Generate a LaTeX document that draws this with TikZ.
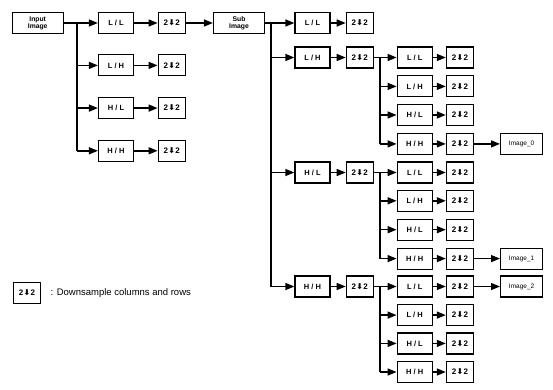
\documentclass[tikz,border=0pt]{standalone}
\usepackage{fontspec}
\setmainfont{Liberation Sans}
\newfontfamily\arrowfont{DejaVu Sans}
\usetikzlibrary{positioning,arrows.meta}
\newcommand{\dsym}{\bfseries 2\hspace{0.3pt}{\arrowfont ⬇}\hspace{0.3pt}2}
\newcommand{\lab}[2]{\bfseries #1 / #2}

\begin{document}
\begin{tikzpicture}[
  x=1pt, y=-1pt,
  font=\fontsize{7.5}{8}\selectfont,
  box/.style={draw, line width=1.2pt, align=center, inner sep=1pt, minimum width=35pt, minimum height=21pt},
  dsbox/.style={box, minimum width=27pt, font=\fontsize{8}{9}\selectfont},
  imgbox/.style={box, minimum width=51pt, font=\fontsize{6.8}{6.8}\selectfont\bfseries},
  outbox/.style={box, minimum width=42pt, font=\fontsize{6.5}{7}\selectfont},
  arr/.style={line width=1.4pt, -{Triangle[length=9pt, width=7pt]}},
  trunk/.style={line width=1.4pt}
]
  \useasboundingbox (0,0) rectangle (553,390);

  \node[imgbox] (in) at (37.7,23) {Input\\Image};
  \node[box] (a-ll) at (116,23) {\lab{L}{L}};
  \node[box] (a-lh) at (116,65.4) {\lab{L}{H}};
  \node[box] (a-hl) at (116,108.1) {\lab{H}{L}};
  \node[box] (a-hh) at (116,150.8) {\lab{H}{H}};
  \node[dsbox] (a-dll) at (171.7,23) {\dsym};
  \node[dsbox] (a-dlh) at (171.7,65.4) {\dsym};
  \node[dsbox] (a-dhl) at (171.7,108.1) {\dsym};
  \node[dsbox] (a-dhh) at (171.7,150.8) {\dsym};
  \node[imgbox] (sub) at (239,23) {Sub\\Image};

  \node[box] (b-ll) at (312.5,23) {\lab{L}{L}};
  \node[box] (b-lh) at (312.5,57.5) {\lab{L}{H}};
  \node[box] (b-hl) at (312.5,172.5) {\lab{H}{L}};
  \node[box] (b-hh) at (312.5,286.5) {\lab{H}{H}};
  \node[dsbox] (b-dll) at (359.8,23) {\dsym};
  \node[dsbox] (b-dlh) at (359.8,57.5) {\dsym};
  \node[dsbox] (b-dhl) at (359.8,172.5) {\dsym};
  \node[dsbox] (b-dhh) at (359.8,286.5) {\dsym};

  \node[box] (c1-ll) at (414.7,57.5) {\lab{L}{L}};
  \node[box] (c1-lh) at (414.7,86.4) {\lab{L}{H}};
  \node[box] (c1-hl) at (414.7,115) {\lab{H}{L}};
  \node[box] (c1-hh) at (414.7,143.9) {\lab{H}{H}};
  \node[box] (c2-ll) at (414.7,172.5) {\lab{L}{L}};
  \node[box] (c2-lh) at (414.7,200.8) {\lab{L}{H}};
  \node[box] (c2-hl) at (414.7,229.7) {\lab{H}{L}};
  \node[box] (c2-hh) at (414.7,258.6) {\lab{H}{H}};
  \node[box] (c3-ll) at (414.7,286.5) {\lab{L}{L}};
  \node[box] (c3-lh) at (414.7,315.1) {\lab{L}{H}};
  \node[box] (c3-hl) at (414.7,343.4) {\lab{H}{L}};
  \node[box] (c3-hh) at (414.7,372) {\lab{H}{H}};
  \node[dsbox, right=13pt of c1-ll] (c1-dll) {\dsym};
  \node[dsbox, right=13pt of c1-lh] (c1-dlh) {\dsym};
  \node[dsbox, right=13pt of c1-hl] (c1-dhl) {\dsym};
  \node[dsbox, right=13pt of c1-hh] (c1-dhh) {\dsym};
  \node[dsbox, right=13pt of c2-ll] (c2-dll) {\dsym};
  \node[dsbox, right=13pt of c2-lh] (c2-dlh) {\dsym};
  \node[dsbox, right=13pt of c2-hl] (c2-dhl) {\dsym};
  \node[dsbox, right=13pt of c2-hh] (c2-dhh) {\dsym};
  \node[dsbox, right=13pt of c3-ll] (c3-dll) {\dsym};
  \node[dsbox, right=13pt of c3-lh] (c3-dlh) {\dsym};
  \node[dsbox, right=13pt of c3-hl] (c3-dhl) {\dsym};
  \node[dsbox, right=13pt of c3-hh] (c3-dhh) {\dsym};
  \node[outbox, right=26pt of c1-dhh] (out0) {Image\_0};
  \node[outbox, right=26pt of c2-dhh] (out1) {Image\_1};
  \node[outbox, right=26pt of c3-dll] (out2) {Image\_2};

  \node[dsbox] (key) at (27,293) {\dsym};
  \node[right=6pt of key, font=\fontsize{9.5}{11}\selectfont] (keytext) {: Downsample columns and rows};

  \coordinate (ja) at (77,23);
  \coordinate (jb) at (271,23);
  \coordinate (jc1) at (380,57.5);
  \coordinate (jc2) at (380,172.5);
  \coordinate (jc3) at (380,286.5);

  \draw[arr] (in) -- (a-ll);
  \draw[trunk] (ja) -- (ja |- a-hh);
  \draw[arr] (ja |- a-lh) -- (a-lh);
  \draw[arr] (ja |- a-hl) -- (a-hl);
  \draw[arr] (ja |- a-hh) -- (a-hh);
  \draw[arr] (a-ll) -- (a-dll);
  \draw[arr] (a-lh) -- (a-dlh);
  \draw[arr] (a-hl) -- (a-dhl);
  \draw[arr] (a-hh) -- (a-dhh);
  \draw[arr] (a-dll) -- (sub);

  \draw[arr] (sub) -- (b-ll);
  \draw[trunk] (jb) -- (jb |- b-hh);
  \draw[arr] (jb |- b-lh) -- (b-lh);
  \draw[arr] (jb |- b-hl) -- (b-hl);
  \draw[arr] (jb |- b-hh) -- (b-hh);
  \draw[arr] (b-ll) -- (b-dll);
  \draw[arr] (b-lh) -- (b-dlh);
  \draw[arr] (b-hl) -- (b-dhl);
  \draw[arr] (b-hh) -- (b-dhh);

  \draw[arr] (b-dlh) -- (c1-ll);
  \draw[trunk] (jc1) -- (jc1 |- c1-hh);
  \draw[arr] (jc1 |- c1-lh) -- (c1-lh);
  \draw[arr] (jc1 |- c1-hl) -- (c1-hl);
  \draw[arr] (jc1 |- c1-hh) -- (c1-hh);
  \draw[arr] (b-dhl) -- (c2-ll);
  \draw[trunk] (jc2) -- (jc2 |- c2-hh);
  \draw[arr] (jc2 |- c2-lh) -- (c2-lh);
  \draw[arr] (jc2 |- c2-hl) -- (c2-hl);
  \draw[arr] (jc2 |- c2-hh) -- (c2-hh);
  \draw[arr] (b-dhh) -- (c3-ll);
  \draw[trunk] (jc3) -- (jc3 |- c3-hh);
  \draw[arr] (jc3 |- c3-lh) -- (c3-lh);
  \draw[arr] (jc3 |- c3-hl) -- (c3-hl);
  \draw[arr] (jc3 |- c3-hh) -- (c3-hh);

  \draw[arr] (c1-ll) -- (c1-dll);
  \draw[arr] (c1-lh) -- (c1-dlh);
  \draw[arr] (c1-hl) -- (c1-dhl);
  \draw[arr] (c1-hh) -- (c1-dhh);
  \draw[arr] (c2-ll) -- (c2-dll);
  \draw[arr] (c2-lh) -- (c2-dlh);
  \draw[arr] (c2-hl) -- (c2-dhl);
  \draw[arr] (c2-hh) -- (c2-dhh);
  \draw[arr] (c3-ll) -- (c3-dll);
  \draw[arr] (c3-lh) -- (c3-dlh);
  \draw[arr] (c3-hl) -- (c3-dhl);
  \draw[arr] (c3-hh) -- (c3-dhh);
  \draw[arr] (c1-dhh) -- (out0);
  \draw[arr] (c2-dhh) -- (out1);
  \draw[arr] (c3-dll) -- (out2);
\end{tikzpicture}
\end{document}
